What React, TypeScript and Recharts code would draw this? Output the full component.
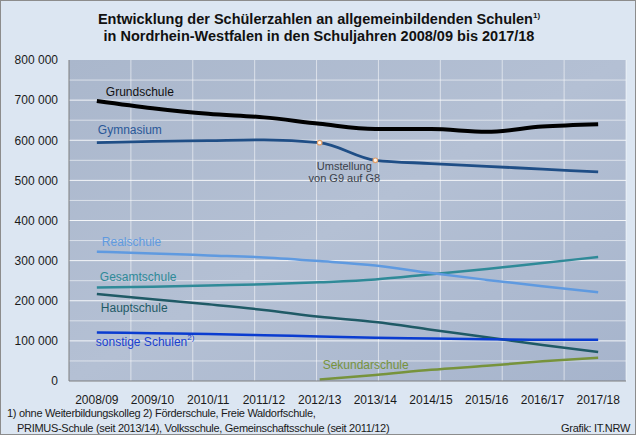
import React from 'react';
import { LineChart, Line, XAxis, YAxis, ReferenceLine, CartesianGrid, LabelList } from 'recharts';

const years = ['2008/09', '2009/10', '2010/11', '2011/12', '2012/13', '2013/14', '2014/15', '2015/16', '2016/17', '2017/18'];
const grundschule = [698000, 680000, 666000, 657000, 641000, 628000, 628000, 621000, 634000, 640000];
const gymnasium = [594000, 597000, 599000, 601000, 594000, 550000, 542000, 535000, 528000, 521000];
const realschule = [322000, 318000, 313000, 308000, 299000, 288000, 269000, 252000, 236000, 221000];
const gesamtschule = [233000, 235000, 238000, 241000, 246000, 253000, 266000, 279000, 294000, 309000];
const hauptschule = [217000, 204000, 191000, 177000, 160000, 147000, 128000, 109000, 90000, 72000];
const sonstige = [121000, 119000, 117000, 114000, 111000, 108000, 106000, 104000, 103000, 103000];
const sekundar = [null, null, null, null, 4000, 15000, 28000, 38000, 49000, 58000];

const yTicks = [0, 100000, 200000, 300000, 400000, 500000, 600000, 700000, 800000];
const gridY = [50000, 100000, 150000, 200000, 250000, 300000, 350000, 400000, 450000, 500000, 550000, 600000, 650000, 700000, 750000];
const gridX = [1, 2, 3, 4, 5, 6, 7, 8, 9];

const data = years.map((y, i) => ({
  year: y,
  grund: grundschule[i],
  gym: gymnasium[i],
  real: realschule[i],
  gesamt: gesamtschule[i],
  haupt: hauptschule[i],
  sonst: sonstige[i],
  sek: sekundar[i],
}));

const FONT = '"Liberation Sans", Arial, sans-serif';
const fmt = (v: number) => (v === 0 ? '0' : String(v).replace(/\B(?=(\d{3})+(?!\d))/g, ' '));

const makeLabel = (idx: number, text: string, color: string, dx: number, dy: number, sup?: string) => (props: any) => {
  if (props.index !== idx) return null;
  return (
    <text x={props.x + dx} y={props.y + dy} fill={color} fontSize={12} fontFamily={FONT} dominantBaseline="middle">
      {text}
      {sup ? <tspan fontSize={8} dy={-4}>{sup}</tspan> : null}
    </text>
  );
};

const umstellungLabel = (props: any) => {
  if (props.index !== 5) return null;
  return (
    <text x={props.x - 31} y={props.y + 10} fill="#3a3f4a" fontSize={11} fontFamily={FONT} textAnchor="middle">
      <tspan x={props.x - 31} dy={0}>Umstellung</tspan>
      <tspan x={props.x - 31} dy={11.5}>von G9 auf G8</tspan>
    </text>
  );
};

const gymDot = (props: any) => {
  if (props.index !== 4 && props.index !== 5) return <g key={props.index} />;
  return <circle key={props.index} cx={props.cx} cy={props.cy} r={2.3} fill="#fff4e8" stroke="#e3a06a" strokeWidth={1.2} />;
};

export default function App() {
  return (
    <div style={{ position: 'absolute', left: 0, top: 0, width: 636, height: 435, background: '#dce6f2', border: '1px solid #8c8c8c', boxSizing: 'border-box', fontFamily: FONT }}>
      <div style={{ position: 'absolute', left: 0, top: 10, width: 636, textAlign: 'center', fontWeight: 'bold', fontSize: 14.5, lineHeight: '17px', color: '#111' }}>
        Entwicklung der Schülerzahlen an allgemeinbildenden Schulen<sup style={{ fontSize: 8, verticalAlign: 'top', lineHeight: '10px' }}>1)</sup>
        <br />
        in Nordrhein-Westfalen in den Schuljahren 2008/09 bis 2017/18
      </div>
      <div style={{ position: 'absolute', left: -1, top: -1 }}>
        <LineChart width={636} height={435} data={data} margin={{ top: 60, right: 10, left: 0, bottom: 0 }}>
          <defs>
            <linearGradient id="plotBg" x1="0" y1="0" x2="1" y2="1">
              <stop offset="0%" stopColor="#aab7cc" />
              <stop offset="50%" stopColor="#b4c0d4" />
              <stop offset="100%" stopColor="#a6b4cc" />
            </linearGradient>
          </defs>
          <CartesianGrid fill="url(#plotBg)" horizontal={false} vertical={false} stroke="none" />
          <XAxis dataKey="year" scale="band" height={54} tickLine={false} axisLine={{ stroke: '#7f7f7f' }} tick={{ fill: '#1a1a1a', fontSize: 12, fontFamily: FONT }} tickMargin={8} interval={0} />
          <XAxis xAxisId="grid" type="number" domain={[0, 10]} hide />
          <XAxis xAxisId="top" dataKey="year" scale="band" orientation="top" height={0} tick={false} tickLine={false} axisLine={{ stroke: '#7f7f7f' }} />
          <YAxis domain={[0, 800000]} ticks={yTicks} width={69} tickFormatter={fmt} tickLine={false} axisLine={{ stroke: '#7f7f7f' }} tick={{ fill: '#1a1a1a', fontSize: 12, fontFamily: FONT }} tickMargin={5} interval={0} />
          <YAxis yAxisId="right" orientation="right" width={0} tick={false} tickLine={false} axisLine={{ stroke: '#7f7f7f' }} />
          {gridY.map((v) => (
            <ReferenceLine key={'h' + v} y={v} stroke="#ffffff" strokeOpacity={v % 100000 === 0 ? 0.85 : 0.55} strokeWidth={1} />
          ))}
          {gridX.map((v) => (
            <ReferenceLine key={'v' + v} x={v} xAxisId="grid" stroke="#ffffff" strokeOpacity={0.55} strokeWidth={1} />
          ))}
          <Line dataKey="sek" type="monotone" stroke="#77933c" strokeWidth={2.5} dot={false} isAnimationActive={false} connectNulls={false}>
            <LabelList dataKey="sek" content={makeLabel(4, 'Sekundarschule', '#77933c', 3, -14)} />
          </Line>
          <Line dataKey="haupt" type="monotone" stroke="#1f5a66" strokeWidth={2.5} dot={false} isAnimationActive={false}>
            <LabelList dataKey="haupt" content={makeLabel(0, 'Hauptschule', '#1f5a66', 4, 15)} />
          </Line>
          <Line dataKey="sonst" type="monotone" stroke="#0a3cd0" strokeWidth={2.5} dot={false} isAnimationActive={false}>
            <LabelList dataKey="sonst" content={makeLabel(0, 'sonstige Schulen', '#1a3fd0', -1, 10, '2)')} />
          </Line>
          <Line dataKey="gesamt" type="monotone" stroke="#2f8a98" strokeWidth={2.5} dot={false} isAnimationActive={false}>
            <LabelList dataKey="gesamt" content={makeLabel(0, 'Gesamtschule', '#2f8a98', 3, -10)} />
          </Line>
          <Line dataKey="real" type="monotone" stroke="#5f9ae0" strokeWidth={2.5} dot={false} isAnimationActive={false}>
            <LabelList dataKey="real" content={makeLabel(0, 'Realschule', '#5f9ae0', 5, -9)} />
          </Line>
          <Line dataKey="gym" type="monotone" stroke="#1f4e86" strokeWidth={2.8} dot={gymDot} isAnimationActive={false}>
            <LabelList dataKey="gym" content={makeLabel(0, 'Gymnasium', '#2a5898', 1, -12)} />
            <LabelList dataKey="gym" content={umstellungLabel} />
          </Line>
          <Line dataKey="grund" type="monotone" stroke="#000000" strokeWidth={4} dot={false} isAnimationActive={false}>
            <LabelList dataKey="grund" content={makeLabel(0, 'Grundschule', '#111111', 9, -8)} />
          </Line>
        </LineChart>
      </div>
      <div style={{ position: 'absolute', left: 6, top: 405, fontSize: 11, color: '#1a1a1a', lineHeight: '15px', letterSpacing: -0.3 }}>
        1) ohne Weiterbildungskolleg 2) Förderschule, Freie Waldorfschule,
        <br />
        <span style={{ paddingLeft: 10 }}>PRIMUS-Schule (seit 2013/14), Volksschule, Gemeinschaftsschule (seit 2011/12)</span>
      </div>
      <div style={{ position: 'absolute', right: 5, top: 420, fontSize: 11, color: '#1a1a1a', lineHeight: '15px', letterSpacing: -0.3 }}>
        Grafik: IT.NRW
      </div>
    </div>
  );
}
